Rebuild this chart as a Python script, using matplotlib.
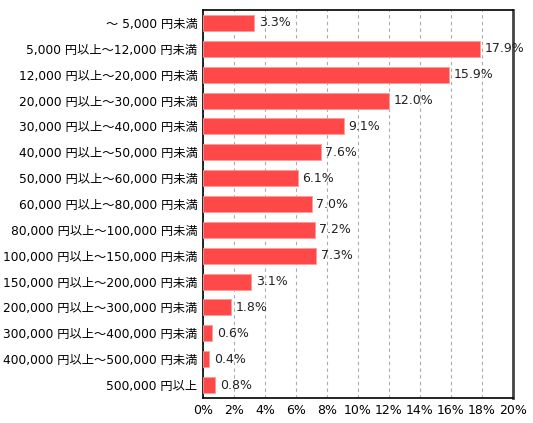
import matplotlib
matplotlib.use("Agg")
import matplotlib.pyplot as plt

plt.rcParams['font.family'] = ['DejaVu Sans', 'Noto Sans CJK JP']

categories = ["～ 5,000 円未満", "5,000 円以上～12,000 円未満", "12,000 円以上～20,000 円未満",
              "20,000 円以上～30,000 円未満", "30,000 円以上～40,000 円未満", "40,000 円以上～50,000 円未満",
              "50,000 円以上～60,000 円未満", "60,000 円以上～80,000 円未満", "80,000 円以上～100,000 円未満",
              "100,000 円以上～150,000 円未満", "150,000 円以上～200,000 円未満", "200,000 円以上～300,000 円未満",
              "300,000 円以上～400,000 円未満", "400,000 円以上～500,000 円未満", "500,000 円以上"]
values = [3.3, 17.9, 15.9, 12.0, 9.1, 7.6, 6.1, 7.0, 7.2, 7.3, 3.1, 1.8, 0.6, 0.4, 0.8]
xticks = [0, 2, 4, 6, 8, 10, 12, 14, 16, 18, 20]

fig = plt.figure(figsize=(5.33, 4.23), dpi=100)
ax = fig.add_axes([203/533, 1 - 398/423, 310/533, 388/423])

y = list(range(len(categories)))
ax.barh(y, values, height=0.62, color='#FF4848', edgecolor='#FF9A9A', linewidth=0.6, zorder=3)
for yi, v in zip(y, values):
    ax.text(v + 0.3, yi, f"{v:.1f}%", va='center', ha='left', fontsize=9, color='#222222', zorder=4)

ax.set_xlim(0, 20)
ax.set_ylim(len(categories) - 0.5, -0.5)
ax.set_yticks(y)
ax.set_yticklabels(categories, fontsize=8.8)
ax.set_xticks(xticks)
ax.set_xticklabels([f"{t}%" for t in xticks], fontsize=9)
ax.tick_params(length=0, pad=4)
ax.grid(axis='x', linestyle=(0, (3, 3)), color='#AAAAAA', linewidth=0.8, zorder=0)
for s in ['left', 'top', 'bottom']:
    ax.spines[s].set_color('#000000')
    ax.spines[s].set_linewidth(1.2)
ax.spines['right'].set_color('#444444')
ax.spines['right'].set_linewidth(2)

fig.savefig("out.png", dpi=100)
